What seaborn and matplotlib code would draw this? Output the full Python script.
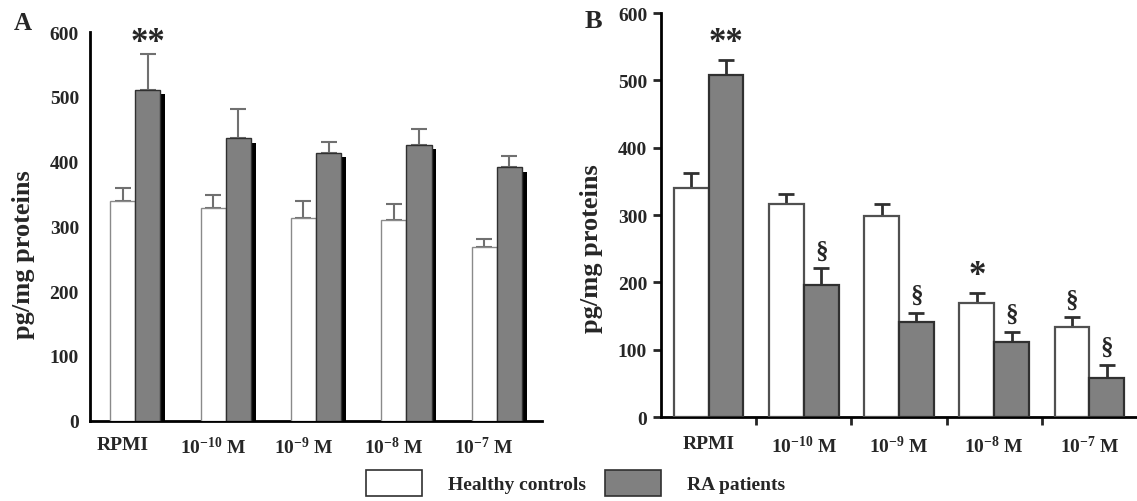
import numpy as np
import pandas as pd
import matplotlib
matplotlib.use("Agg")
import matplotlib.pyplot as plt
import matplotlib.patheffects as pe
from matplotlib.patches import Patch
import seaborn as sns

# ----------------------------
# 1. Values
# ----------------------------
conditions = ["RPMI", "1e-10", "1e-9", "1e-8", "1e-7"]
tick_labels = ["RPMI",
               r"$\mathbf{10^{-10}}$ M",
               r"$\mathbf{10^{-9}}$ M",
               r"$\mathbf{10^{-8}}$ M",
               r"$\mathbf{10^{-7}}$ M"]
groups = ["Healthy controls", "RA patients"]

# panel A
a_healthy = [340, 328, 313, 310, 268]
a_healthy_err = [20, 21, 27, 24, 12]
a_ra = [511, 436, 414, 426, 391]
a_ra_err = [55, 46, 16, 25, 18]

# panel B
b_healthy = [340, 316, 299, 170, 134]
b_healthy_err = [23, 15, 17, 15, 14]
b_ra = [508, 196, 142, 111, 58]
b_ra_err = [23, 25, 13, 16, 20]

# significance marks: (condition index, group index, symbol)
a_marks = [(0, 1, "**")]
b_marks = [(0, 1, "**"), (1, 1, "§"), (2, 1, "§"), (3, 0, "*"),
           (3, 1, "§"), (4, 0, "§"), (4, 1, "§")]

# ----------------------------
# 2. Style
# ----------------------------
sns.set_style("ticks")
plt.rcParams["font.family"] = ["Liberation Serif", "DejaVu Serif"]
plt.rcParams["font.weight"] = "bold"
plt.rcParams["mathtext.fontset"] = "custom"
plt.rcParams["mathtext.rm"] = "Liberation Serif:bold"
plt.rcParams["mathtext.bf"] = "Liberation Serif:bold"

fill = {"Healthy controls": "white", "RA patients": "#808080"}

fig = plt.figure(figsize=(11.37, 5.02), dpi=100)
axA = fig.add_axes([0.0792, 0.160, 0.3975, 0.774])
axB = fig.add_axes([0.5814, 0.167, 0.4186, 0.805])


def long_df(healthy, ra):
    return pd.DataFrame({
        "condition": conditions * 2,
        "group": [groups[0]] * len(conditions) + [groups[1]] * len(conditions),
        "value": healthy + ra,
    })


def draw_panel(ax, healthy, h_err, ra, r_err, width, edge_h, edge_r, lw,
               err_col, err_lw, cap, marks, mark_gap):
    df = long_df(healthy, ra)
    sns.barplot(data=df, x="condition", y="value", hue="group",
                order=conditions, hue_order=groups, palette=fill,
                width=width, gap=0, errorbar=None, legend=False, ax=ax,
                linewidth=lw, zorder=3)
    bars = sorted(ax.patches, key=lambda p: p.get_x())
    h_bars, r_bars = bars[0::2], bars[1::2]
    for p in h_bars:
        p.set_edgecolor(edge_h)
    for p in r_bars:
        p.set_edgecolor(edge_r)
    hx = [p.get_x() + p.get_width() / 2 for p in h_bars]
    rx = [p.get_x() + p.get_width() / 2 for p in r_bars]
    zeros = np.zeros(len(conditions))
    ax.errorbar(hx, healthy, yerr=[zeros, h_err], fmt="none", ecolor=err_col,
                elinewidth=err_lw, capsize=cap, capthick=err_lw, zorder=2)
    ax.errorbar(rx, ra, yerr=[zeros, r_err], fmt="none", ecolor=err_col,
                elinewidth=err_lw, capsize=cap, capthick=err_lw, zorder=2)
    for ci, gi, sym in marks:
        xs, vals, errs = (hx, healthy, h_err) if gi == 0 else (rx, ra, r_err)
        size = 25 if "*" in sym else 18
        ax.text(xs[ci], vals[ci] + errs[ci] + mark_gap, sym, ha="center",
                va="center", fontsize=size, fontweight="bold")
    ax.set_xlim(-0.5, 4.5)
    ax.set_ylim(0, 600)
    ax.set_yticks(range(0, 601, 100))
    ax.set_xlabel("")
    ax.set_ylabel("pg/mg proteins", fontsize=19, fontweight="bold")
    for s in ["top", "right"]:
        ax.spines[s].set_visible(False)
    for s in ["left", "bottom"]:
        ax.spines[s].set_linewidth(2)
        ax.spines[s].set_color("black")
    return r_bars


# ----------------------------
# 3. Panel A
# ----------------------------
r_bars = draw_panel(axA, a_healthy, a_healthy_err, a_ra, a_ra_err, 0.555,
                    "#8a8a8a", "#303030", 1.0, "#707070", 1.5, 5.5,
                    a_marks, 18)
for p in r_bars:
    p.set_path_effects([pe.SimplePatchShadow(offset=(3.5, -3),
                                             shadow_rgbFace="black", alpha=1.0),
                        pe.Normal()])
# labels in panel A sit a little left of the bar pairs
axA.set_xticks(np.arange(len(conditions)) - 0.14)
axA.set_xticklabels(tick_labels, fontsize=14)
axA.tick_params(axis="both", length=0, labelsize=14, pad=8)
axA.tick_params(axis="x", pad=11)
axA.yaxis.set_label_coords(-0.122, 0.43)

# ----------------------------
# 4. Panel B
# ----------------------------
draw_panel(axB, b_healthy, b_healthy_err, b_ra, b_ra_err, 0.73,
           "#505050", "#303030", 1.6, "#303030", 2.0, 6,
           b_marks, 26)
axB.set_xticks(np.arange(len(conditions) - 1) + 0.5)
axB.set_xticklabels([])
axB.set_xticks(range(len(conditions)), minor=True)
axB.set_xticklabels(tick_labels, minor=True, fontsize=14)
axB.tick_params(axis="x", which="major", length=6, width=2, direction="out")
axB.tick_params(axis="x", which="minor", length=0, pad=13)
axB.tick_params(axis="y", length=6, width=2, labelsize=14, pad=4)
axB.yaxis.set_label_coords(-0.122, 0.42)

# ----------------------------
# 5. Panel letters and legend
# ----------------------------
fig.text(0.012, 0.94, "A", fontsize=18, fontweight="bold")
fig.text(0.514, 0.944, "B", fontsize=19, fontweight="bold")

handles = [Patch(facecolor=fill[g], edgecolor="#303030", linewidth=1.2) for g in groups]
fig.legend(handles, groups, loc="center", bbox_to_anchor=(0.506, 0.036), ncol=2,
           frameon=False, fontsize=14, handlelength=2.9, handleheight=1.7,
           handletextpad=1.3, columnspacing=1.0)

fig.savefig("out.png", dpi=100)
